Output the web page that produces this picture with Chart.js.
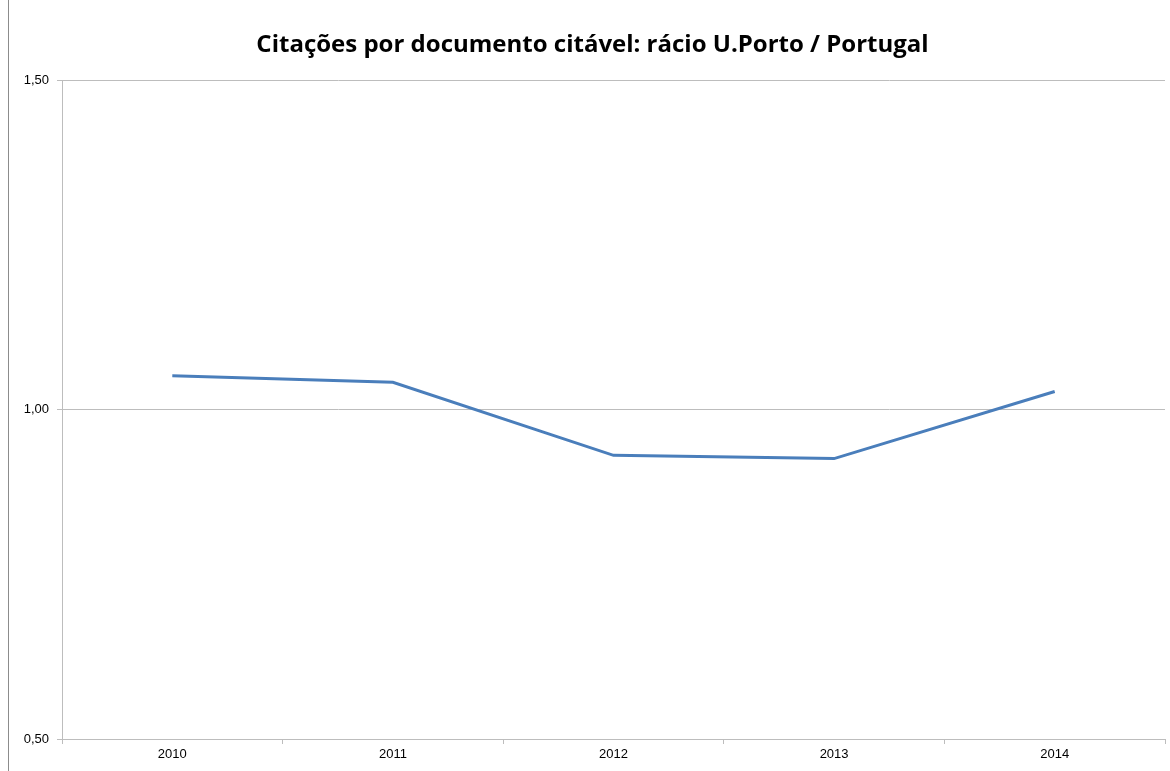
<!DOCTYPE html>
<html>
<head>
<meta charset="utf-8">
<script src="https://cdn.jsdelivr.net/npm/chart.js@4/dist/chart.umd.min.js"></script>
<style>
  html, body { margin: 0; padding: 0; background: #fff; }
  #wrap { position: relative; width: 1170px; height: 771px; }
  #edge { position: absolute; left: 8px; top: 0; width: 1px; height: 771px; background: #8c8c8c; }
  canvas { position: absolute; left: 20px; top: 0; }
</style>
</head>
<body>
<div id="wrap">
  <div id="edge"></div>
  <canvas id="ratioChart" width="1150" height="771"></canvas>
</div>
<script>
const years = ['2010', '2011', '2012', '2013', '2014'];
const ratios = [1.052, 1.042, 0.931, 0.926, 1.028];
const yTicks = [0.5, 1.0, 1.5];

const gridColor = '#bdbdbd';

const ctx = document.getElementById('ratioChart');
new Chart(ctx, {
  type: 'line',
  data: {
    labels: years,
    datasets: [{
      label: 'Rácio',
      data: ratios,
      borderColor: '#4a7ebb',
      borderWidth: 3,
      pointRadius: 0,
      tension: 0,
      fill: false
    }]
  },
  options: {
    responsive: false,
    animation: false,
    layout: { padding: { left: 0, right: 5, top: 0, bottom: 0 } },
    plugins: {
      legend: { display: false },
      tooltip: { enabled: false },
      title: {
        display: true,
        text: 'Citações por documento citável: rácio U.Porto / Portugal',
        color: '#000',
        font: { family: 'Open Sans', size: 24, weight: 'bold' },
        padding: { top: 31, bottom: 21 }
      }
    },
    scales: {
      x: {
        offset: true,
        grid: {
          offset: true,
          drawOnChartArea: false,
          drawTicks: true,
          tickLength: 5,
          color: gridColor
        },
        border: { display: true, color: gridColor },
        ticks: {
          color: '#000',
          font: { family: 'Liberation Sans', size: 13 },
          padding: 3,
          maxRotation: 0
        },
        afterFit: (scale) => { scale.height = 32; }
      },
      y: {
        min: 0.5,
        max: 1.5,
        afterBuildTicks: (scale) => { scale.ticks = yTicks.map(v => ({ value: v })); },
        grid: {
          drawTicks: true,
          tickLength: 5,
          color: gridColor
        },
        border: { display: true, color: gridColor },
        ticks: {
          color: '#000',
          font: { family: 'Liberation Sans', size: 13 },
          padding: 8,
          callback: (v) => v.toFixed(2).replace('.', ',')
        },
        afterFit: (scale) => { scale.width = 42; }
      }
    }
  }
});
</script>
</body>
</html>
